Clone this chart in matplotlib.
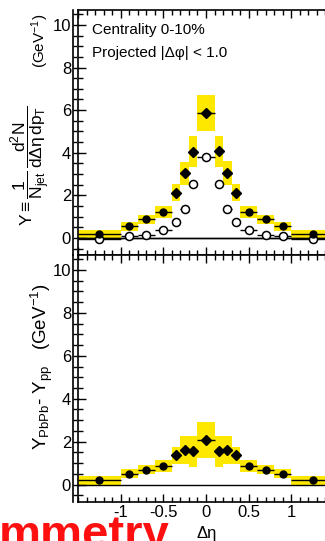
import matplotlib
matplotlib.use("Agg")
import matplotlib.pyplot as plt
from matplotlib.ticker import MultipleLocator, NullFormatter
import numpy as np

plt.rcParams['font.family'] = ['Liberation Sans', 'DejaVu Sans']
plt.rcParams['mathtext.fontset'] = 'custom'
plt.rcParams['mathtext.rm'] = 'Liberation Sans'
plt.rcParams['mathtext.it'] = 'Liberation Sans'
plt.rcParams['mathtext.bf'] = 'Liberation Sans:bold'

# Delta-eta bins (centres and half widths)
deta = [-1.25, -0.9, -0.7, -0.5, -0.35, -0.25, -0.15, 0.0,
        0.15, 0.25, 0.35, 0.5, 0.7, 0.9, 1.25]
half_width = [0.25, 0.1, 0.1, 0.1, 0.05, 0.05, 0.05, 0.1,
              0.05, 0.05, 0.05, 0.1, 0.1, 0.1, 0.25]

# Per-jet yields, PbPb (filled) and pp (open)
y_pbpb = [0.17, 0.56, 0.88, 1.22, 2.13, 3.03, 4.05, 5.85,
          4.06, 3.05, 2.13, 1.22, 0.88, 0.56, 0.17]
sys_pbpb = [0.21, 0.21, 0.22, 0.27, 0.41, 0.55, 0.72, 0.84,
            0.72, 0.55, 0.41, 0.27, 0.22, 0.21, 0.21]
y_pp = [-0.03, 0.08, 0.16, 0.39, 0.75, 1.38, 2.51, 3.81,
        2.51, 1.38, 0.75, 0.39, 0.16, 0.08, -0.03]

# Difference PbPb - pp
y_diff = [0.20, 0.51, 0.70, 0.86, 1.37, 1.62, 1.55, 2.07,
          1.55, 1.62, 1.37, 0.86, 0.70, 0.51, 0.20]
sys_diff = [0.20, 0.22, 0.20, 0.28, 0.39, 0.65, 0.72, 0.85,
            0.72, 0.65, 0.39, 0.28, 0.20, 0.22, 0.20]

YELLOW = '#FFE800'
W, H = 325, 541

fig = plt.figure(figsize=(W / 100, H / 100), dpi=100)


def fx(px):
    return px / W


def fy(py):
    return 1 - py / H


x_left, x_right = 78, 334
ax1 = fig.add_axes([fx(x_left), fy(255), fx(x_right - x_left), fy(10) - fy(255)])
ax2 = fig.add_axes([fx(x_left), fy(501.7), fx(x_right - x_left), fy(255) - fy(501.7)])

x = np.array(deta)
hw = np.array(half_width)
diamond = np.abs(x) < 0.4


def draw_points(ax, y, sys, filled=True):
    y = np.array(y)
    if sys is not None:
        sys = np.array(sys)
        ax.bar(x, 2 * sys, bottom=y - sys, width=2 * hw, color=YELLOW,
               edgecolor='none', zorder=1)
    ax.axhline(0, color='black', lw=1.0, zorder=2)
    ax.errorbar(x, y, xerr=hw, fmt='none', ecolor='black', elinewidth=1.0,
                capsize=0, zorder=3)
    if filled:
        ax.plot(x[~diamond], y[~diamond], 'o', color='black', ms=5.0, zorder=4)
        ax.plot(x[diamond], y[diamond], 'D', color='black', ms=4.6, zorder=4)
    else:
        ax.plot(x, y, 'o', mfc='white', mec='black', mew=1.1, ms=5.8, zorder=4)


draw_points(ax1, y_pp, None, filled=False)
draw_points(ax1, y_pbpb, sys_pbpb)
draw_points(ax2, y_diff, sys_diff)

for ax in (ax1, ax2):
    ax.set_xlim(-1.5, 1.5)
    ax.set_ylim(-0.8, 10.7)
    ax.xaxis.set_major_locator(MultipleLocator(0.5))
    ax.xaxis.set_minor_locator(MultipleLocator(0.1))
    ax.yaxis.set_major_locator(MultipleLocator(2))
    ax.yaxis.set_minor_locator(MultipleLocator(0.5))
    ax.tick_params(which='both', direction='in', top=True, right=True,
                   width=1.0, labelsize=12)
    ax.tick_params(which='major', length=6)
    ax.tick_params(which='minor', length=3.5)
    ax.tick_params(axis='y', pad=5)
    ax.tick_params(axis='x', pad=2.5)
    for s in ax.spines.values():
        s.set_linewidth(1.2)

ax1.xaxis.set_major_formatter(NullFormatter())
ax2.set_xticks([-1, -0.5, 0, 0.5, 1])
ax2.set_xticklabels(['-1', '-0.5', '0', '0.5', '1'])

# second, slightly offset left axis line on both panels
for ax, (b, t) in ((ax1, (255, 10)), (ax2, (501.7, 255))):
    axo = fig.add_axes([fx(72.5), fy(b), 0.001, fy(t) - fy(b)])
    axo.patch.set_visible(False)
    for k in ('top', 'right', 'bottom'):
        axo.spines[k].set_visible(False)
    axo.spines['left'].set_linewidth(1.2)
    axo.set_ylim(-0.8, 10.7)
    axo.set_xticks([])
    axo.yaxis.set_major_locator(MultipleLocator(2))
    axo.yaxis.set_minor_locator(MultipleLocator(0.5))
    axo.yaxis.set_major_formatter(NullFormatter())
    axo.tick_params(which='both', direction='in', width=1.0)
    axo.tick_params(which='major', length=4)
    axo.tick_params(which='minor', length=3)

ax1.text(fx(92), fy(34), 'Centrality 0-10%', transform=fig.transFigure,
         fontsize=11, va='baseline', ha='left')
ax1.text(fx(92), fy(57), 'Projected |Δφ| < 1.0', transform=fig.transFigure,
         fontsize=11, va='baseline', ha='left')

# y-axis titles
fig.text(fx(30), fy(166),
         r'$\mathrm{Y} \equiv \dfrac{1}{\mathrm{N_{jet}}}\,\dfrac{\mathrm{d^2N}}{\mathrm{d\Delta\eta\,dp_T}}$',
         rotation=90, ha='center', va='center', fontsize=12.5)
fig.text(fx(40), fy(41), r'(GeV$^{-1}$)',
         rotation=90, ha='center', va='center', fontsize=11)
fig.text(fx(42), fy(367), r'Y$_{\mathrm{PbPb}}$- Y$_{\mathrm{pp}}$   (GeV$^{-1}$)',
         rotation=90, ha='center', va='center', fontsize=13.5)

fig.text(fx(207), fy(538), 'Δη', ha='center', va='baseline', fontsize=12)

fig.text(fx(170), fy(548.5), 'mmetry', ha='right', va='baseline',
         fontsize=34, fontweight='bold', color='#FF1010')

fig.savefig('out.png', dpi=100)
